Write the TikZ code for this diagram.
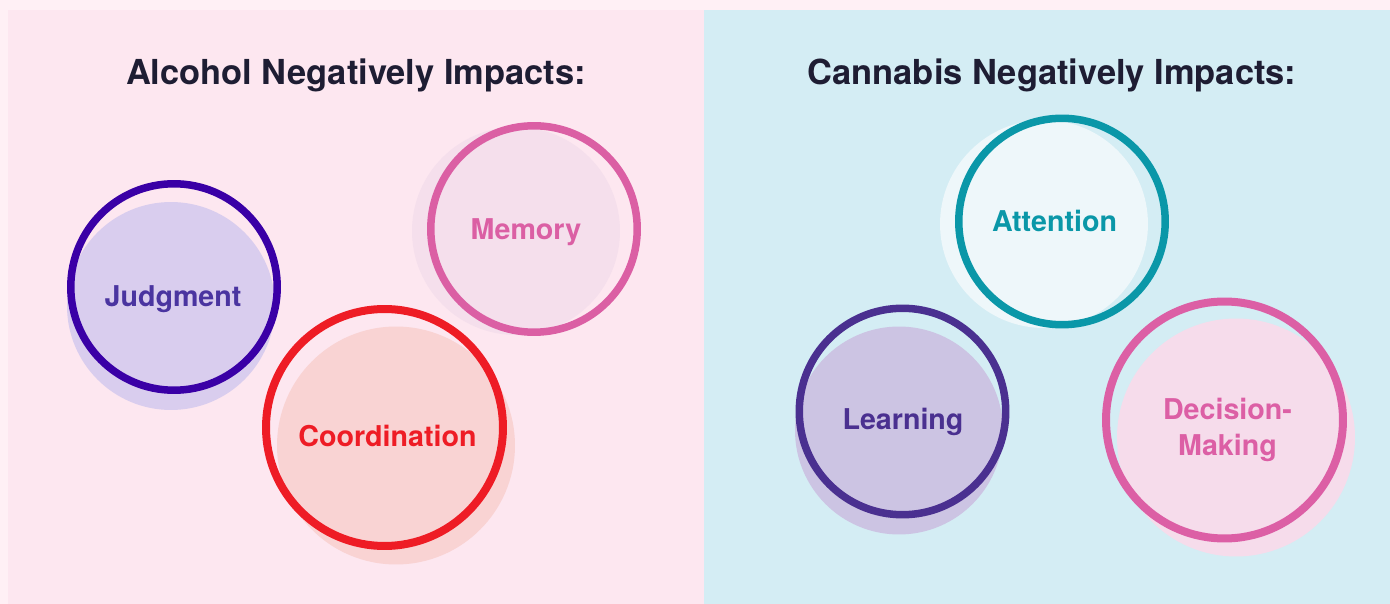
\documentclass[tikz,border=0pt]{standalone}
\usepackage{fontspec}
\setmainfont{TeX Gyre Heros}
\definecolor{outerpink}{HTML}{FFF0F5}
\definecolor{leftbg}{HTML}{FDE7F0}
\definecolor{rightbg}{HTML}{D4EDF4}
\definecolor{titleink}{HTML}{1E1D33}
\definecolor{judgring}{HTML}{3A00A6}
\definecolor{judgfill}{HTML}{D9CDEE}
\definecolor{judgtext}{HTML}{4A34A0}
\definecolor{memring}{HTML}{DB5FA4}
\definecolor{memfill}{HTML}{F5DFEC}
\definecolor{coordring}{HTML}{EE1C25}
\definecolor{coordfill}{HTML}{F9D3D3}
\definecolor{attring}{HTML}{0A97A8}
\definecolor{attfill}{HTML}{EEF7FA}
\definecolor{learnring}{HTML}{4A3090}
\definecolor{learnfill}{HTML}{CCC4E3}
\definecolor{decring}{HTML}{DC5FA5}
\definecolor{decfill}{HTML}{F6DCEB}
\tikzset{
  ring/.style={circle,draw=#1,line width=0.15cm,minimum size=4.13cm,inner sep=0pt},
  bigring/.style={circle,draw=#1,line width=0.16cm,minimum size=4.74cm,inner sep=0pt},
  lbl/.style={text=#1,anchor=base,font=\fontsize{16.3}{21}\selectfont\bfseries,align=center},
  ttl/.style={text=titleink,anchor=base,font=\fontsize{19.6}{23}\selectfont\bfseries}
}
\begin{document}
\begin{tikzpicture}[x=0.02cm,y=-0.02cm]% two panels
\fill[outerpink] (0,0) rectangle (1390,604);
\fill[leftbg] (8,10) rectangle (704,604);
\fill[rightbg] (704,10) rectangle (1390,604);
\node[ttl] (alctitle) at (356,85) {Alcohol Negatively Impacts:};
\node[ttl] (cantitle) at (1052,85) {Cannabis Negatively Impacts:};
% alcohol
\fill[judgfill] (171,306) circle[radius=2.08cm];
\node[ring=judgring] (judgment) at (174,287) {};
\node[lbl=judgtext] (judgmentlbl) at (173,306.7) {Judgment};
\fill[memfill] (516,231) circle[radius=2.08cm];
\node[ring=memring] (memory) at (534,229) {};
\node[lbl=memring] (memorylbl) at (526,240) {Memory};
\fill[coordfill] (396,445.5) circle[radius=2.38cm];
\node[bigring=coordring] (coordination) at (384.5,427.5) {};
\node[lbl=coordring] (coordinationlbl) at (387.5,446.7) {Coordination};
% cannabis
\fill[attfill] (1044,224) circle[radius=2.08cm];
\node[ring=attring] (attention) at (1062,221.5) {};
\node[lbl=attring] (attentionlbl) at (1054.5,232) {Attention};
\fill[learnfill] (899,430.5) circle[radius=2.08cm];
\node[ring=learnring] (learning) at (902.5,411.5) {};
\node[lbl=learnring] (learninglbl) at (903,430) {Learning};
\fill[decfill] (1236,437.5) circle[radius=2.38cm];
\node[bigring=decring] (decision) at (1224.5,420) {};
\node[lbl=decring] (decisionlbl) at (1227.5,456) {Decision-\\Making};
\end{tikzpicture}
\end{document}
